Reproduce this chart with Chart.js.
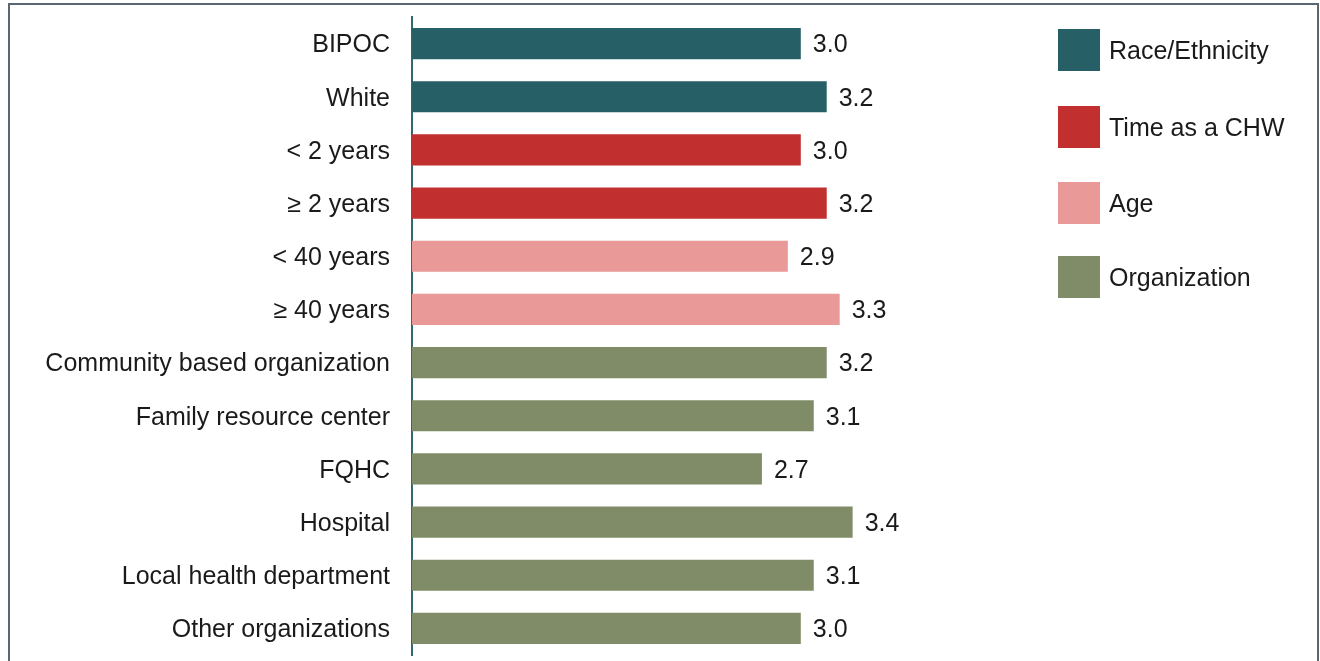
<!DOCTYPE html>
<html>
<head>
<meta charset="utf-8">
<script src="https://cdn.jsdelivr.net/npm/chart.js@4.4.1/dist/chart.umd.min.js"></script>
<style>
  html,body{margin:0;padding:0;background:#fff;overflow:hidden;}
  #wrap{position:relative;width:1320px;height:661px;}
  #frame{position:absolute;left:8px;top:3px;width:1311px;height:700px;border:2px solid #5b6670;box-sizing:border-box;pointer-events:none;}
  canvas{position:absolute;left:0;top:0;}
</style>
</head>
<body>
<div id="wrap">
  <canvas id="chart" width="1320" height="661"></canvas>
  <div id="frame"></div>
</div>
<script>
const categories = ["BIPOC","White","< 2 years","\u2265 2 years","< 40 years","\u2265 40 years",
  "Community based organization","Family resource center","FQHC","Hospital",
  "Local health department","Other organizations"];
const values = [3.0,3.2,3.0,3.2,2.9,3.3,3.2,3.1,2.7,3.4,3.1,3.0];
const groupOf = [0,0,1,1,2,2,3,3,3,3,3,3];
const groupNames = ["Race/Ethnicity","Time as a CHW","Age","Organization"];
const groupColors = ["#275f66","#c12f2f","#ea9999","#7f8c67"];

const FONT = "'Liberation Sans', Arial, Helvetica, sans-serif";
const TEXT = "#1a1a1a";
const FSIZE = 25;

// value labels at the end of each bar
const valueLabels = {
  id: "valueLabels",
  afterDatasetsDraw(chart) {
    const ctx = chart.ctx;
    const meta = chart.getDatasetMeta(0);
    ctx.save();
    ctx.font = FSIZE + "px " + FONT;
    ctx.fillStyle = TEXT;
    ctx.textAlign = "left";
    ctx.textBaseline = "middle";
    meta.data.forEach((bar, i) => {
      ctx.fillText(values[i].toFixed(1), bar.x + 12, bar.y + 2);
    });
    ctx.restore();
  }
};

// legend boxes on the right
const sideLegend = {
  id: "sideLegend",
  afterDraw(chart) {
    const ctx = chart.ctx;
    ctx.save();
    ctx.font = FSIZE + "px " + FONT;
    ctx.textBaseline = "middle";
    const tops = [29, 106, 182, 256];
    groupNames.forEach((name, i) => {
      ctx.fillStyle = groupColors[i];
      ctx.fillRect(1058, tops[i], 42, 42);
      ctx.fillStyle = TEXT;
      ctx.fillText(name, 1109, tops[i] + 23);
    });
    ctx.restore();
  }
};

new Chart(document.getElementById("chart"), {
  type: "bar",
  data: {
    labels: categories,
    datasets: [{
      data: values,
      backgroundColor: groupOf.map(g => groupColors[g]),
      barPercentage: 0.585,
      categoryPercentage: 1.0
    }]
  },
  options: {
    indexAxis: "y",
    responsive: false,
    animation: false,
    layout: { padding: { left: 0, right: 260, top: 17, bottom: 6 } },
    plugins: { legend: { display: false }, tooltip: { enabled: false } },
    scales: {
      x: { display: false, min: 0, max: 5 },
      y: {
        grid: { display: false, drawTicks: false },
        border: { display: true, color: "#2e6a70", width: 2 },
        ticks: { font: { size: FSIZE, family: FONT }, color: TEXT, padding: 22, labelOffset: 2 },
        afterFit(scale) {
          scale.width = 412;
          scale.paddingTop = 0;
          scale.paddingBottom = 0;
        }
      }
    }
  },
  plugins: [valueLabels, sideLegend]
});
</script>
</body>
</html>
